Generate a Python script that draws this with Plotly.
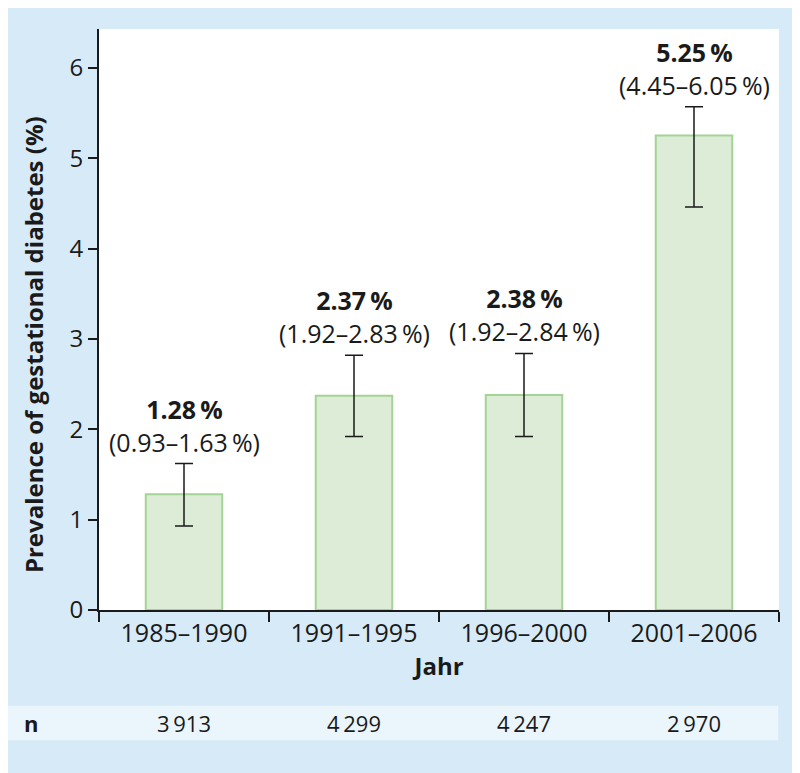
import plotly.graph_objects as go

categories = ["1985–1990", "1991–1995", "1996–2000", "2001–2006"]
prevalence = [1.28, 2.37, 2.38, 5.25]
ci_low = [0.93, 1.92, 1.92, 4.45]
ci_high = [1.63, 2.83, 2.84, 6.05]
bar_upper = [1.62, 2.82, 2.84, 5.57]
bar_lower = [0.93, 1.92, 1.92, 4.46]
n_values = ["3\u2009913", "4\u2009299", "4\u2009247", "2\u2009970"]

FONT = "Open Sans"
BG = "#d6eaf8"
INK = "#1a1a1a"

fig = go.Figure()
fig.add_trace(go.Bar(
    x=categories, y=prevalence, width=0.45,
    marker=dict(color="#ddecd6", line=dict(color="#a3d495", width=2)),
    error_y=dict(type="data", symmetric=False,
                 array=[u - p for u, p in zip(bar_upper, prevalence)],
                 arrayminus=[p - l for p, l in zip(prevalence, bar_lower)],
                 color=INK, thickness=1.5, width=9),
    hoverinfo="skip",
))

for c, p, lo, hi, up in zip(categories, prevalence, ci_low, ci_high, bar_upper):
    fig.add_annotation(x=c, y=up, xref="x", yref="y", yanchor="bottom", yshift=3,
                       showarrow=False, align="center",
                       text=f"<b>{p:.2f}\u2009%</b><br>({lo:.2f}–{hi:.2f}\u2009%)",
                       font=dict(family=FONT, size=25, color=INK))

# y-axis title as rotated annotation
fig.add_annotation(xref="paper", yref="paper", x=-0.097, y=0.456, textangle=-90,
                   xanchor="center", yanchor="middle", showarrow=False,
                   text="<b>Prevalence of gestational diabetes (%)</b>",
                   font=dict(family=FONT, size=24, color=INK))

# n row
fig.add_shape(type="rect", xref="paper", yref="paper", x0=-0.14, x1=0.999,
              y0=-0.224, y1=-0.165, fillcolor="#eaf5fc", line=dict(width=0), layer="below")
fig.add_annotation(xref="paper", yref="paper", x=-0.1, y=-0.195, text="<b>n</b>",
                   xanchor="center", yanchor="middle",
                   showarrow=False, font=dict(family=FONT, size=22, color=INK))
for c, nv in zip(categories, n_values):
    fig.add_annotation(x=c, xref="x", yref="paper", y=-0.195, text=nv, showarrow=False,
                       xanchor="center", yanchor="middle",
                       font=dict(family=FONT, size=22, color=INK))

fig.update_layout(
    width=792, height=765,
    margin=dict(l=91, r=21, t=21, b=163),
    paper_bgcolor=BG, plot_bgcolor="white",
    showlegend=False,
    font=dict(family=FONT, size=24, color=INK),
    xaxis=dict(
        range=[-0.5, 3.5], showline=True, linecolor=INK, linewidth=2,
        ticks="outside", ticklen=10, tickcolor=INK, tickwidth=2,
        tickson="boundaries", showgrid=False,
        tickfont=dict(family=FONT, size=25, color=INK),
        title=dict(text="<b>Jahr</b>", font=dict(family=FONT, size=24), standoff=8),
    ),
    yaxis=dict(
        range=[0, 6.43], showline=True, linecolor=INK, linewidth=2,
        ticks="outside", ticklen=9, tickcolor=INK, tickwidth=2,
        tickvals=[0, 1, 2, 3, 4, 5, 6], showgrid=False, zeroline=False,
        tickfont=dict(family=FONT, size=24, color=INK),
    ),
)

fig.write_html("out.html")
